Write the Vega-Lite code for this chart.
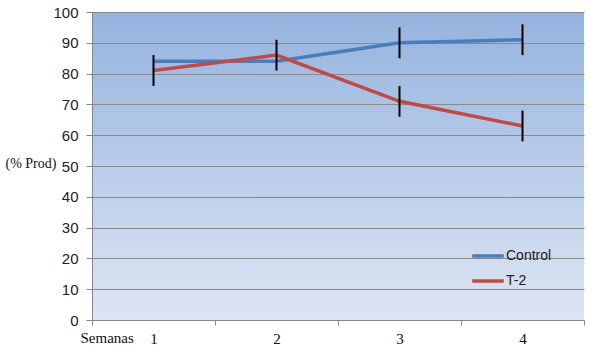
{
  "$schema": "https://vega.github.io/schema/vega-lite/v6.json",
  "autosize": {"type": "none"},
  "width": 492,
  "height": 308,
  "padding": {"left": 92, "top": 12, "right": 6, "bottom": 31},
  "background": "white",
  "config": {
    "view": {
      "stroke": null,
      "fill": {"gradient": "linear", "x1": 0, "y1": 0, "x2": 0, "y2": 1,
        "stops": [{"offset": 0, "color": "#95B3DF"}, {"offset": 1, "color": "#DDE5F3"}]}
    },
    "font": "Liberation Sans",
    "axisY": {
      "gridColor": "#8A8A8A", "gridOpacity": 1, "domainColor": "#888888",
      "tickColor": "#888888", "tickSize": 6, "labelOverlap": false,
      "labelFontSize": 15, "labelColor": "#222222", "labelPadding": 8,
      "titleAngle": 0, "titleFont": "Liberation Serif",
      "titleFontSize": 14, "titleFontWeight": "normal", "titleColor": "#111111",
      "titleAlign": "left", "titleBaseline": "middle", "titleX": -87, "titleY": 151
    }
  },
  "data": {
    "values": [
      {"week": "1", "series": "Control", "value": 84, "lo": null, "hi": null},
      {"week": "1", "series": "T-2", "value": 81, "lo": 76, "hi": 86},
      {"week": "2", "series": "Control", "value": 84, "lo": null, "hi": null},
      {"week": "2", "series": "T-2", "value": 86, "lo": 81, "hi": 91},
      {"week": "3", "series": "Control", "value": 90, "lo": 85, "hi": 95},
      {"week": "3", "series": "T-2", "value": 71, "lo": 66, "hi": 76},
      {"week": "4", "series": "Control", "value": 91, "lo": 86, "hi": 96},
      {"week": "4", "series": "T-2", "value": 63, "lo": 58, "hi": 68}
    ]
  },
  "encoding": {
    "x": {
      "field": "week", "type": "ordinal",
      "scale": {"type": "band", "paddingInner": 0, "paddingOuter": 0},
      "axis": {
        "title": "Semanas", "labelAngle": 0, "tickBand": "extent",
        "domainColor": "#888888", "tickColor": "#888888", "tickSize": 5,
        "labelFont": "Liberation Serif", "labelFontSize": 15, "labelColor": "#111111",
        "labelPadding": 6,
        "titleFont": "Liberation Serif", "titleFontSize": 15, "titleFontWeight": "normal",
        "titleColor": "#111111", "titleAlign": "left", "titleBaseline": "middle",
        "titleX": -12, "titleY": 17
      }
    }
  },
  "layer": [
    {
      "mark": {"type": "line", "strokeWidth": 3.5},
      "encoding": {
        "y": {
          "field": "value", "type": "quantitative",
          "scale": {"domain": [0, 100]},
          "axis": {
            "values": [0, 10, 20, 30, 40, 50, 60, 70, 80, 90, 100],
            "title": "(% Prod)"
          }
        },
        "color": {
          "field": "series", "type": "nominal",
          "scale": {"domain": ["Control", "T-2"], "range": ["#4A7EBB", "#BE4B48"]},
          "legend": {
            "title": null, "orient": "none", "legendX": 378, "legendY": 226,
            "symbolType": "stroke", "symbolSize": 1000, "symbolStrokeWidth": 3.5,
            "labelFontSize": 14, "labelColor": "#222222", "rowPadding": -9, "labelOffset": 0
          }
        }
      }
    },
    {
      "transform": [{"filter": "datum.lo != null"}],
      "mark": {"type": "rule", "color": "black", "strokeWidth": 2},
      "encoding": {
        "y": {"field": "lo", "type": "quantitative",
          "axis": {
            "values": [0, 10, 20, 30, 40, 50, 60, 70, 80, 90, 100],
            "title": "(% Prod)"
          }},
        "y2": {"field": "hi"}
      }
    }
  ]
}
